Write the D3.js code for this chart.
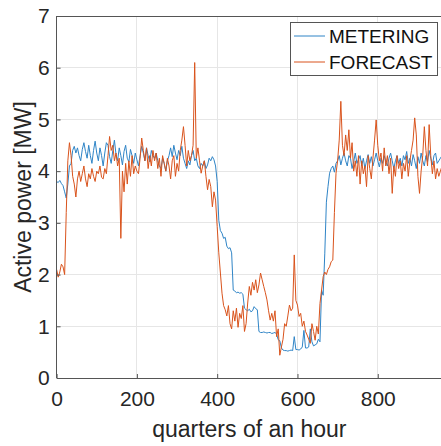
<!DOCTYPE html>
<html>
<head>
<meta charset="utf-8">
<script src="https://cdn.jsdelivr.net/npm/d3@7"></script>
<style>
  html, body { margin: 0; padding: 0; background: #fff; }
  svg { display: block; font-family: "Liberation Sans", Arial, Helvetica, sans-serif; }
</style>
</head>
<body>
<svg id="chart" width="441" height="446"></svg>
<script>
// ---- data (sampled every 4 quarters of an hour, 0..960) ----
const sampleStep = 4;
const metering = [
  3.80,3.78,3.82,3.76,3.72,3.60,3.48,3.75,4.10,4.15,
  4.40,4.48,4.35,4.45,4.30,4.20,4.42,4.55,4.38,4.25,
  4.50,4.30,4.15,4.40,4.58,4.35,4.20,4.45,4.30,4.10,
  4.35,4.55,4.50,4.28,4.15,4.40,4.60,4.32,4.20,4.45,
  4.30,4.12,4.38,4.50,4.25,4.18,4.42,4.30,4.15,4.35,
  4.22,4.10,4.30,4.48,4.35,4.20,4.45,4.30,4.18,4.40,
  4.30,4.25,4.35,4.20,4.10,4.05,4.25,4.15,4.00,4.20,
  4.30,4.45,4.28,4.50,4.35,4.22,4.40,4.30,4.48,4.25,
  4.15,4.05,4.20,4.12,4.30,4.40,4.20,4.25,4.10,4.05,
  4.15,4.10,4.20,4.05,4.12,4.25,4.20,4.28,4.22,4.10,
  3.80,3.05,2.85,2.80,2.70,2.72,2.55,2.50,2.52,2.42,
  1.70,1.68,1.65,1.66,1.64,1.65,1.62,1.35,1.32,1.30,
  1.33,1.28,1.30,1.38,1.34,1.32,0.90,0.88,0.88,0.89,
  0.88,0.87,0.88,0.88,0.86,0.87,0.88,0.85,0.74,0.72,
  0.58,0.54,0.53,0.53,0.52,0.53,0.54,0.53,0.80,0.55,
  0.55,0.54,0.56,0.60,0.92,0.58,0.58,0.60,0.95,0.70,
  0.62,0.64,0.66,0.75,0.70,1.70,1.60,2.40,3.40,3.70,
  3.96,4.05,4.10,3.98,4.15,4.20,4.30,4.12,4.25,4.35,
  4.20,4.10,4.30,4.25,4.05,4.18,4.35,4.15,4.22,4.30,
  4.10,4.25,4.05,4.20,4.32,4.15,4.28,4.10,4.22,4.35,
  4.20,4.08,4.25,4.15,4.30,4.18,4.10,4.25,4.35,4.20,
  4.05,4.20,4.30,4.15,4.25,4.10,4.30,4.22,4.38,4.15,
  4.25,4.10,4.32,4.20,4.05,4.28,4.15,4.35,4.20,4.10,
  4.30,4.18,4.40,4.25,4.12,4.30,4.35,4.15,4.20,4.25,
  4.30
];
const forecast = [
  2.10,1.95,2.05,2.20,2.15,2.00,3.20,4.20,4.55,4.30,
  3.90,3.75,3.50,3.85,4.00,3.80,3.95,4.10,3.85,3.70,
  3.95,3.85,4.05,3.90,3.80,4.00,3.95,4.10,3.88,3.85,
  4.05,3.95,4.30,4.67,4.40,4.50,4.20,4.35,4.10,4.25,
  2.70,4.00,3.60,4.15,3.75,4.20,3.90,4.30,3.95,4.10,
  4.00,3.95,4.25,4.64,4.40,4.20,4.45,4.05,4.30,4.10,
  4.40,4.20,4.35,4.05,4.25,3.90,4.30,4.15,4.00,4.25,
  4.10,3.85,4.20,4.30,3.90,4.15,4.00,4.40,4.60,4.86,
  4.50,4.10,4.40,4.20,4.30,4.50,6.10,4.25,4.45,4.20,
  3.96,4.10,4.20,3.90,3.64,3.84,3.70,3.31,3.60,3.44,
  2.93,2.42,2.03,1.64,1.40,1.32,1.20,1.40,1.05,0.95,
  1.30,1.10,1.35,0.98,1.25,1.15,1.40,0.90,1.05,1.45,
  1.77,1.60,1.85,1.70,1.90,1.65,1.80,2.03,1.90,1.77,
  1.65,1.51,1.30,1.12,1.25,1.10,1.30,0.80,0.95,0.44,
  0.60,0.75,1.05,1.00,1.20,1.41,1.30,1.35,2.38,1.50,
  1.41,1.19,1.25,1.00,1.10,0.90,0.83,0.75,0.67,1.05,
  0.90,0.73,1.00,0.85,1.44,1.70,1.96,2.05,2.00,2.10,
  2.15,2.25,2.28,3.20,3.96,4.20,4.60,5.35,4.50,4.30,
  4.70,4.40,4.80,4.25,4.55,4.00,4.20,3.90,4.30,3.75,
  4.20,3.95,4.10,3.70,4.30,4.05,3.85,4.25,4.60,4.99,
  4.50,4.20,4.35,4.00,4.45,4.10,4.30,3.95,4.25,3.57,
  4.10,3.90,4.30,4.05,4.20,3.85,4.15,4.00,4.30,3.90,
  4.20,4.40,4.60,5.03,4.70,3.90,3.57,4.00,4.30,4.86,
  4.40,4.10,4.90,4.30,3.95,4.20,3.85,4.05,3.90,4.00,
  4.10
];
const seriesNames = ["METERING", "FORECAST"];
const xTicks = [0, 200, 400, 600, 800];
const yTicks = [0, 1, 2, 3, 4, 5, 6, 7];
const xLabel = "quarters of an hour";
const yLabel = "Active power [MW]";

// ---- layout ----
const svg = d3.select("#chart");
const L = 56.6, R = 442, T = 16, B = 378;
const x = d3.scaleLinear().domain([0, 960]).range([L, R]);
const y = d3.scaleLinear().domain([0, 7]).range([B, T]);
const colors = ["#2f84c6", "#d9531c"];

svg.append("rect").attr("width", 441).attr("height", 446).attr("fill", "#fff");

svg.append("defs").append("clipPath").attr("id", "clip")
  .append("rect").attr("x", L).attr("y", T).attr("width", R - L).attr("height", B - T);

// grid
const grid = svg.append("g");
grid.selectAll("line.gx").data(xTicks.filter(d => d > 0)).join("line")
  .attr("x1", d => x(d)).attr("x2", d => x(d)).attr("y1", T).attr("y2", B)
  .attr("stroke", "#e6e6e6").attr("stroke-width", 1).attr("shape-rendering", "crispEdges");
grid.selectAll("line.gy").data(yTicks.filter(d => d > 0 && d < 7)).join("line")
  .attr("x1", L).attr("x2", R).attr("y1", d => y(d)).attr("y2", d => y(d))
  .attr("stroke", "#e6e6e6").attr("stroke-width", 1).attr("shape-rendering", "crispEdges");

// lines
const line = d3.line().x((d, i) => x(i * sampleStep)).y(d => y(d));
const plot = svg.append("g").attr("clip-path", "url(#clip)");
[metering, forecast].forEach((s, k) => {
  plot.append("path").datum(s).attr("d", line)
    .attr("fill", "none").attr("stroke", colors[k]).attr("stroke-width", 1)
    .attr("stroke-linejoin", "round");
});

// axes
const axisColor = "#555";
const xAxis = svg.append("g").attr("transform", `translate(0,${B})`)
  .call(d3.axisBottom(x).tickValues(xTicks).tickSize(-4).tickPadding(13).tickFormat(d3.format("d")));
const yAxis = svg.append("g").attr("transform", `translate(${L},0)`)
  .call(d3.axisLeft(y).tickValues(yTicks).tickSize(-4).tickPadding(7).tickFormat(d3.format("d")));
[xAxis, yAxis].forEach(a => {
  a.select(".domain").remove();
  a.selectAll(".tick line").attr("stroke", axisColor);
  a.selectAll(".tick text").attr("fill", "#262626").attr("font-size", "21px")
    .attr("font-family", "Liberation Sans, Arial, sans-serif");
});
xAxis.selectAll(".tick text").attr("dy", "0.71em");
// axis lines (box left/bottom/top)
svg.append("line").attr("x1", L).attr("x2", L).attr("y1", T).attr("y2", B)
  .attr("stroke", axisColor).attr("shape-rendering", "crispEdges");
svg.append("line").attr("x1", L).attr("x2", R).attr("y1", B).attr("y2", B)
  .attr("stroke", axisColor).attr("shape-rendering", "crispEdges");
svg.append("line").attr("x1", L).attr("x2", R).attr("y1", T).attr("y2", T)
  .attr("stroke", axisColor).attr("shape-rendering", "crispEdges");

// axis titles
svg.append("text").attr("x", (L + R) / 2).attr("y", 437).attr("text-anchor", "middle")
  .attr("font-size", "23px").attr("fill", "#262626").text(xLabel);
svg.append("text").attr("transform", `translate(31,${(T + B) / 2}) rotate(-90)`)
  .attr("text-anchor", "middle").attr("font-size", "23px").attr("fill", "#262626").text(yLabel);

// legend
const lg = svg.append("g");
lg.append("rect").attr("x", 290.5).attr("y", 22.5).attr("width", 147).attr("height", 53)
  .attr("fill", "#fff").attr("stroke", "#555").attr("stroke-width", 1);
seriesNames.forEach((n, k) => {
  const cy = 36 + k * 26;
  lg.append("line").attr("x1", 294).attr("x2", 325).attr("y1", cy).attr("y2", cy)
    .attr("stroke", colors[k]).attr("stroke-width", 1);
  lg.append("text").attr("x", 329).attr("y", cy + 7).attr("font-size", "19px")
    .attr("fill", "#111").text(n);
});
</script>
</body>
</html>
